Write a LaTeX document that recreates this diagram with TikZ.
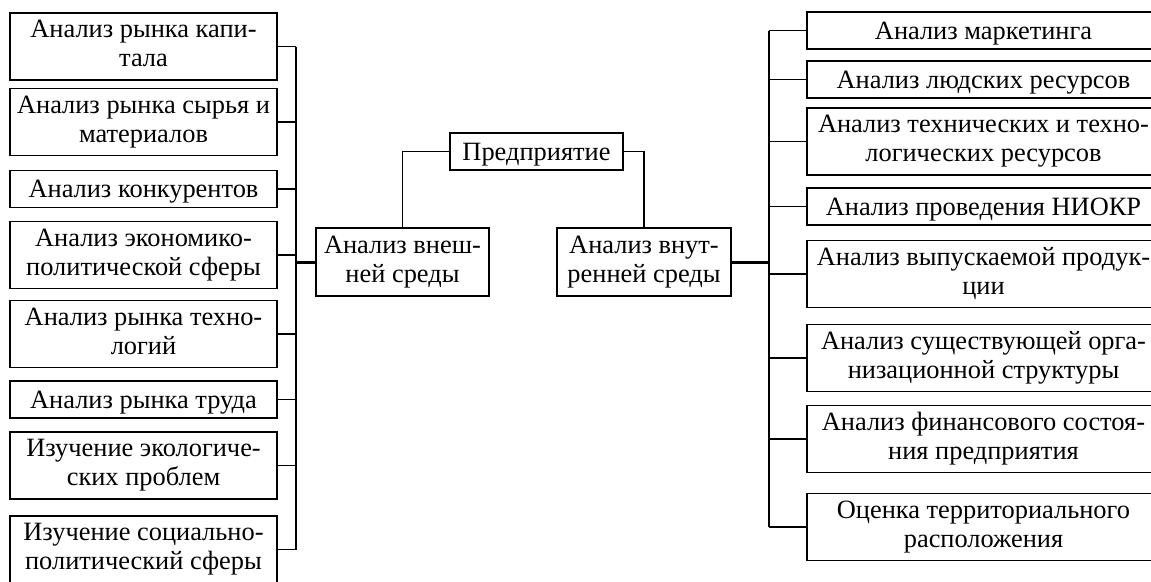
\documentclass[tikz,border=0pt]{standalone}
\usepackage{fontspec}
\setmainfont{Liberation Serif}
\begin{document}
\begin{tikzpicture}[x=1pt,y=-1pt,
  box/.style={draw, line width=1.3pt, inner sep=0pt, align=center,
    font=\fontsize{26.4}{29}\selectfont,
    execute at begin node={\rule{0pt}{23pt}},
    execute at end node={\rule[-6pt]{0pt}{6pt}}},
  lbox/.style={box, minimum width=267pt},
  rbox/.style={box, minimum width=353pt},
  one/.style={minimum height=37pt},
  two/.style={minimum height=67pt},
  conn/.style={line width=1.2pt},
  trunk/.style={line width=3pt}]
\useasboundingbox (0,0) rectangle (1151,581);
\clip (0,0) rectangle (1151,581);
\fill[white] (0,0) rectangle (1151,581);

% left column
\node[lbox,two] (l1) at (143.5,46.5) {Анализ рынка капи-\\тала};
\node[lbox,two] (l2) at (143.5,122) {Анализ рынка сырья и\\материалов};
\node[lbox,one] (l3) at (143.5,189) {Анализ конкурентов};
\node[lbox,two] (l4) at (143.5,255) {Анализ экономико-\\политической сферы};
\node[lbox,two] (l5) at (143.5,334) {Анализ рынка техно-\\логий};
\node[lbox,one] (l6) at (143.5,399.5) {Анализ рынка труда};
\node[lbox,two] (l7) at (143.5,465.5) {Изучение экологиче-\\ских проблем};
\node[lbox,two] (l8) at (143.5,549.5) {Изучение социально-\\политический сферы};

% centre
\node[box,one,minimum width=173pt] (ent) at (536.5,151.5) {Предприятие};
\node[box,minimum width=173pt,minimum height=68pt] (ext) at (402.5,262) {Анализ внеш-\\ней среды};
\node[box,minimum width=174pt,minimum height=68pt] (int) at (644,262) {Анализ внут-\\ренней среды};

% right column
\node[rbox,one] (r1) at (983.5,30.5) {Анализ маркетинга};
\node[rbox,one] (r2) at (983.5,79.5) {Анализ людских ресурсов};
\node[rbox,two] (r3) at (983.5,141.5) {Анализ технических и техно-\\логических ресурсов};
\node[rbox,one] (r4) at (983.5,206.5) {Анализ проведения НИОКР};
\node[rbox,two] (r5) at (983.5,274) {Анализ выпускаемой продук-\\ции};
\node[rbox,two] (r6) at (983.5,358) {Анализ существующей орга-\\низационной структуры};
\node[rbox,two] (r7) at (983.5,439) {Анализ финансового состоя-\\ния предприятия};
\node[rbox,two] (r8) at (983.5,527) {Оценка территориального\\расположения};

\coordinate (lbus) at (296,0);
\coordinate (rbus) at (769,0);

% left bus
\draw[conn] (l1.east -| lbus) -- (l8.east -| lbus);
\foreach \n in {l1,l2,l3,l4,l5,l6,l7,l8}
  \draw[conn] (\n.east) -- (\n.east -| lbus);

% right bus
\draw[conn] (r1.west -| rbus) -- (r8.west -| rbus);
\foreach \n in {r1,r2,r3,r4,r5,r6,r7,r8}
  \draw[conn] (\n.west) -- (\n.west -| rbus);

% centre links
\draw[conn] (ent.west) -| (ext.north);
\draw[conn] (ent.east) -| (int.north);
\draw[trunk] (ext.west) -- (ext.west -| lbus);
\draw[trunk] (int.east) -- (int.east -| rbus);
\end{tikzpicture}
\end{document}
